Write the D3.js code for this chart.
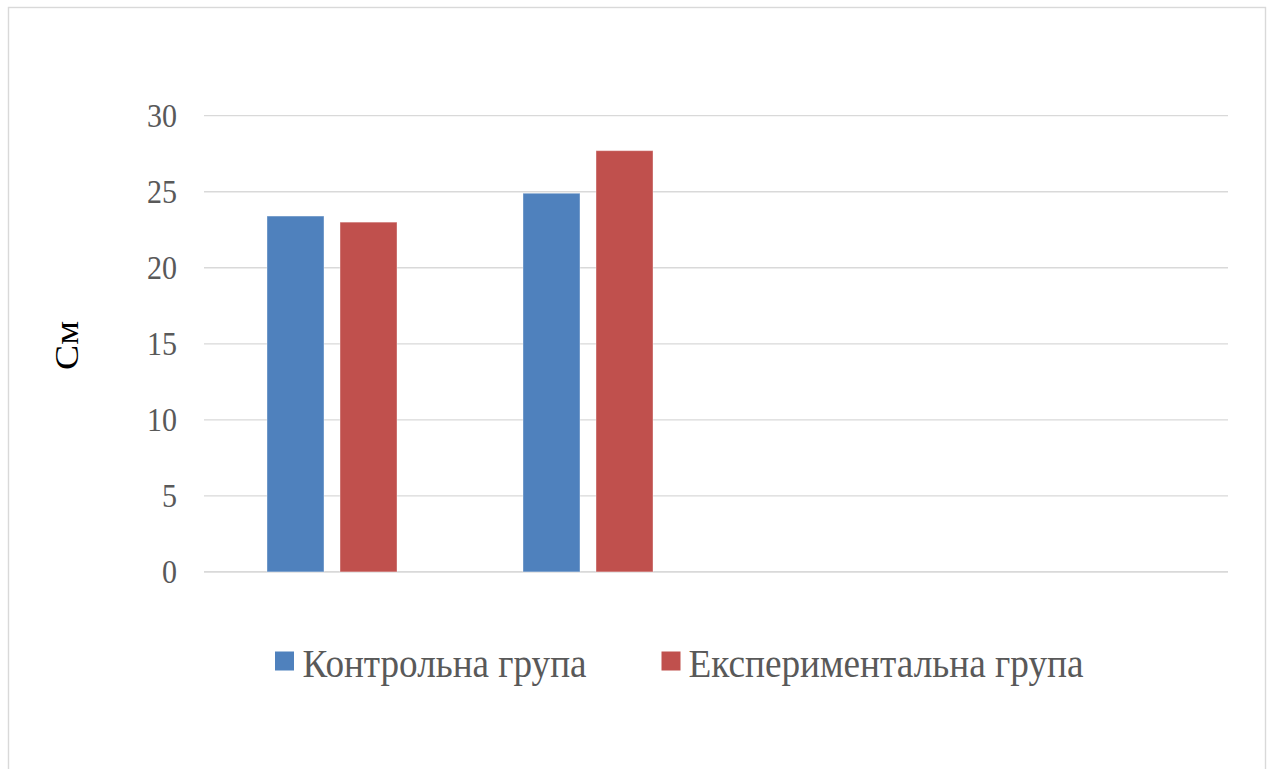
<!DOCTYPE html>
<html>
<head>
<meta charset="utf-8">
<script src="https://cdn.jsdelivr.net/npm/d3@7"></script>
<style>
  html, body { margin: 0; padding: 0; background: #fff; }
  svg { display: block; }
</style>
</head>
<body>
<svg id="chart" width="1271" height="769"></svg>
<script>
// Measurement categories (four slots, only the first two are filled)
const categories = ["1", "2", "3", "4"];
const seriesNames = ["Контрольна група", "Експериментальна група"];
const controlValues = [23.4, 24.9, null, null];
const experimentalValues = [23.0, 27.7, null, null];
const yTicks = [0, 5, 10, 15, 20, 25, 30];
const yTitle = "См";
const colors = ["#4F81BD", "#C0504D"];

const FONT = "'Liberation Serif', 'Times New Roman', serif";

const svg = d3.select("#chart").attr("font-family", FONT);

// outer frame
svg.append("rect")
  .attr("x", 8.5).attr("y", 7.5)
  .attr("width", 1257).attr("height", 800)
  .attr("fill", "#fff")
  .attr("stroke", "#d9d9d9").attr("stroke-width", 1.4);

const plot = { left: 204, right: 1228, top: 115.7, bottom: 571.9 };

const x = d3.scaleBand().domain(categories).range([plot.left, plot.right]).padding(0);
const xInner = d3.scaleBand().domain(seriesNames)
  .range([0, x.bandwidth()]).paddingInner(0.22).paddingOuter(0.863);
const y = d3.scaleLinear().domain([0, 30]).range([plot.bottom, plot.top]);

// gridlines
svg.append("g").selectAll("line").data(yTicks).join("line")
  .attr("x1", plot.left).attr("x2", plot.right)
  .attr("y1", d => y(d)).attr("y2", d => y(d))
  .attr("stroke", "#d9d9d9")
  .attr("stroke-width", d => d === 0 ? 1.8 : 1.3);

// y tick labels
svg.append("g").selectAll("text").data(yTicks).join("text")
  .attr("x", 177).attr("y", d => y(d))
  .attr("dy", "0.34em")
  .attr("text-anchor", "end")
  .attr("fill", "#595959")
  .attr("font-size", 33)
  .attr("textLength", d => String(d).length * 15)
  .attr("lengthAdjust", "spacingAndGlyphs")
  .text(d => d);

// y axis title
svg.append("text")
  .attr("transform", "translate(78,345.5) rotate(-90)")
  .attr("text-anchor", "middle")
  .attr("fill", "#000")
  .attr("font-size", 34)
  .attr("textLength", 49)
  .attr("lengthAdjust", "spacingAndGlyphs")
  .text(yTitle);

// bars
const rows = categories.map((c, i) => ({
  cat: c,
  vals: [controlValues[i], experimentalValues[i]]
}));

const groups = svg.append("g").selectAll("g").data(rows).join("g")
  .attr("transform", d => `translate(${x(d.cat)},0)`);

groups.selectAll("rect")
  .data(d => d.vals.map((v, j) => ({ name: seriesNames[j], v, j })).filter(e => e.v != null))
  .join("rect")
  .attr("x", d => xInner(d.name))
  .attr("width", xInner.bandwidth())
  .attr("y", d => y(d.v))
  .attr("height", d => y(0) - y(d.v))
  .attr("fill", d => colors[d.j])
  .attr("stroke", "rgba(255,255,255,0.35)")
  .attr("stroke-width", 1);

// legend
const legendItems = [
  { name: seriesNames[0], color: colors[0], sx: 275, tx: 302.5, len: 284 },
  { name: seriesNames[1], color: colors[1], sx: 661.5, tx: 688.5, len: 395 }
];
const lg = svg.append("g");
legendItems.forEach(it => {
  lg.append("rect")
    .attr("x", it.sx).attr("y", 651.5)
    .attr("width", 19).attr("height", 19)
    .attr("fill", it.color);
  lg.append("text")
    .attr("x", it.tx).attr("y", 676.5)
    .attr("fill", "#595959")
    .attr("font-size", 40)
    .attr("textLength", it.len)
    .attr("lengthAdjust", "spacingAndGlyphs")
    .text(it.name);
});
</script>
</body>
</html>
